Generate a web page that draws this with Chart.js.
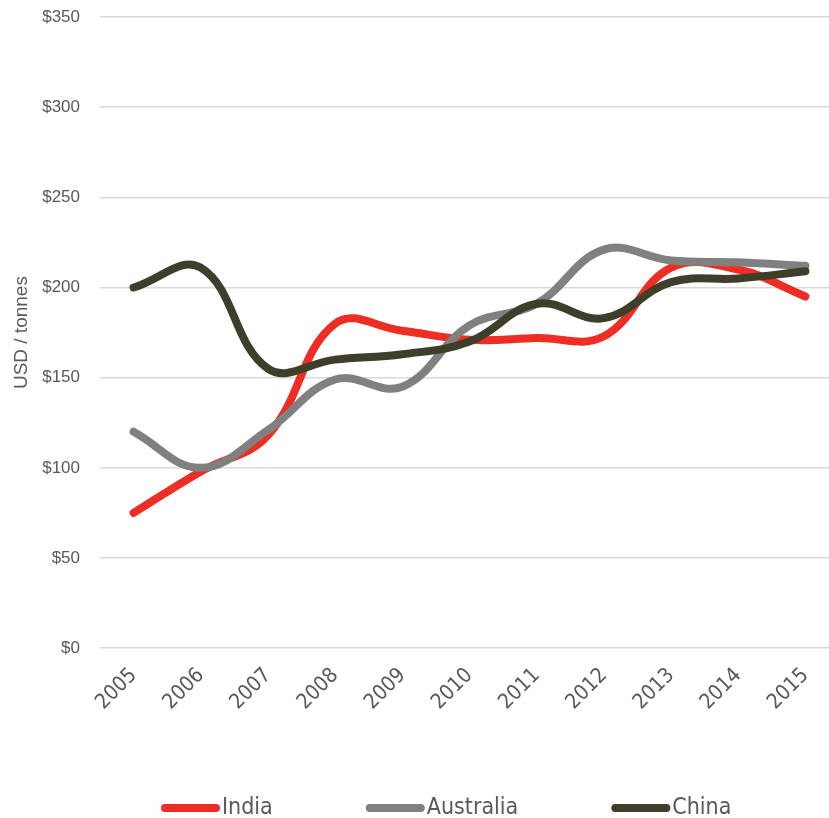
<!DOCTYPE html>
<html>
<head>
<meta charset="utf-8">
<script src="https://cdn.jsdelivr.net/npm/chart.js@4/dist/chart.umd.min.js"></script>
<style>
  html, body { margin: 0; padding: 0; background: #fff; overflow: hidden; }
  #wrap { position: absolute; left: 0; top: 0; width: 839px; height: 818px; }
</style>
</head>
<body>
<div id="wrap"><canvas id="priceChart" width="839" height="818"></canvas></div>
<script>
// coal prices, USD / tonnes
const years = ["2005", "2006", "2007", "2008", "2009", "2010", "2011", "2012", "2013", "2014", "2015"];
const india = [75, 98, 118, 180, 176, 171, 172, 173, 211, 210, 195];
const australia = [120, 100, 121, 149, 145, 179, 191, 221, 215, 214, 212];
const china = [200, 211, 155, 160, 163, 170, 191, 183, 203, 205, 209];
const yTicks = [0, 50, 100, 150, 200, 250, 300, 350];

const textGrey = "#595959";
const condensed = "'DejaVu Sans Condensed', 'DejaVu Sans'";

function line(label, data, color, order) {
  return {
    label: label,
    data: data,
    borderColor: color,
    backgroundColor: color,
    borderWidth: 8,
    borderCapStyle: "round",
    borderJoinStyle: "round",
    pointRadius: 0,
    pointHoverRadius: 0,
    tension: 0.4,
    fill: false,
    order: order
  };
}

// legend drawn by hand, Excel spaces the entries wide apart
const bottomLegend = {
  id: "bottomLegend",
  afterDraw(chart) {
    const ctx = chart.ctx;
    const y = 808;
    let x = 161;
    ctx.save();
    ctx.font = "23px " + condensed;
    ctx.textBaseline = "middle";
    ctx.textAlign = "left";
    chart.data.datasets.forEach((ds) => {
      ctx.strokeStyle = ds.borderColor;
      ctx.lineWidth = 8;
      ctx.lineCap = "round";
      ctx.beginPath();
      ctx.moveTo(x + 4, y);
      ctx.lineTo(x + 55, y);
      ctx.stroke();
      ctx.fillStyle = textGrey;
      ctx.fillText(ds.label, x + 61, y);
      x += 61 + ctx.measureText(ds.label).width + 93;
    });
    ctx.restore();
  }
};

const chart = new Chart(document.getElementById("priceChart"), {
  type: "line",
  data: {
    labels: years,
    datasets: [
      line("India", india, "#EE2E24", 2),
      line("Australia", australia, "#808080", 1),
      line("China", china, "#3F3E2A", 0)
    ]
  },
  plugins: [bottomLegend],
  options: {
    responsive: false,
    devicePixelRatio: 1,
    animation: false,
    layout: { padding: { top: 17, left: 0, right: 0, bottom: 96 } },
    scales: {
      x: {
        offset: true,
        grid: { display: false },
        border: { display: false },
        ticks: {
          autoSkip: false,
          minRotation: 45,
          maxRotation: 45,
          padding: 7,
          color: textGrey,
          font: { family: condensed, size: 21 }
        }
      },
      y: {
        min: 0,
        max: 350,
        afterBuildTicks: (scale) => { scale.ticks = yTicks.map(v => ({ value: v })); },
        grid: { color: "#d9d9d9", lineWidth: 1.5, drawTicks: false },
        border: { display: false },
        ticks: {
          padding: 20,
          color: textGrey,
          font: { family: "'Liberation Sans Narrow', 'Arial Narrow', 'Liberation Sans'", size: 17 },
          callback: (v) => "$" + v
        },
        title: {
          display: true,
          text: "USD / tonnes",
          color: textGrey,
          padding: { top: 10, bottom: 10 },
          font: { family: "'Liberation Sans', Arial", size: 19, lineHeight: 1.2 }
        },
        afterFit: (scale) => {
          scale.width = 100;
          scale.paddingTop = 0;
          scale.paddingBottom = 0;
        }
      }
    },
    plugins: {
      tooltip: { enabled: false },
      legend: { display: false }
    }
  }
});
</script>
</body>
</html>
